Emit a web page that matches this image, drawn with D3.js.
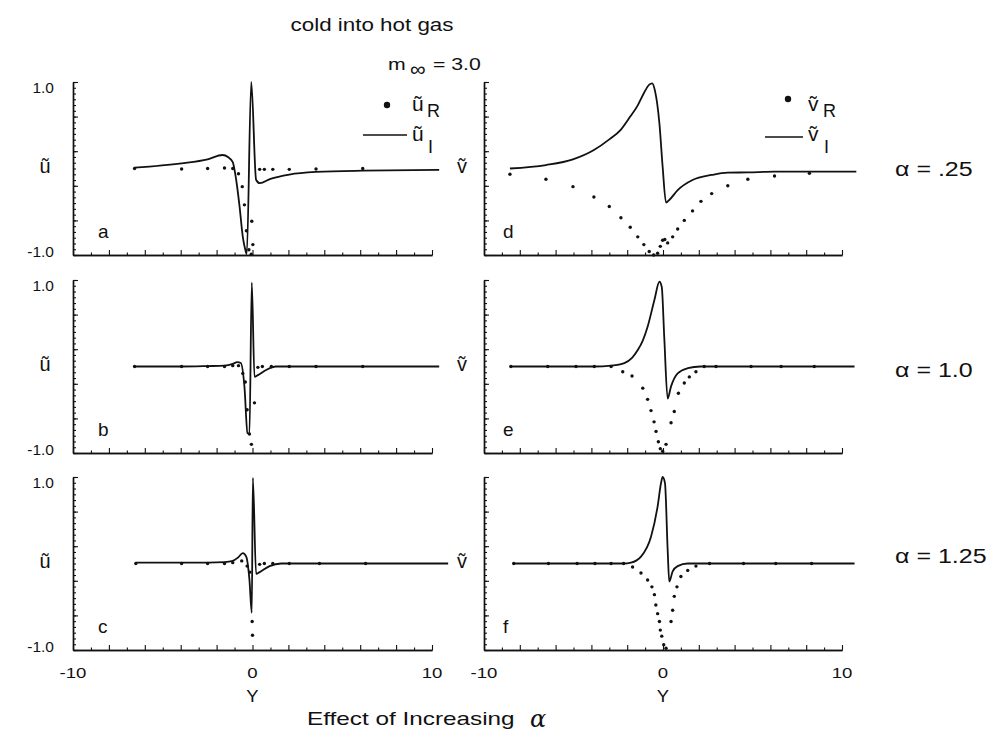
<!DOCTYPE html>
<html>
<head>
<meta charset="utf-8">
<script src="https://cdn.jsdelivr.net/npm/d3@7"></script>
<style>
  body { margin: 0; background: #fff; }
  svg { font-family: "Liberation Sans", Arial, Helvetica, sans-serif; }
</style>
</head>
<body>
<svg id="chart" width="996" height="755"></svg>
<script>
// panel a: u, alpha = .25
const aLineX = [-6.57, -3.95, -2.5, -1.67, -1.35, -1.1, -0.91, -0.72, -0.54, -0.4, -0.32, -0.07, 0.2, 0.4, 1.0, 2.05, 3.54, 6.14, 10.4]
const aLineY = [0.01, 0.06, 0.106, 0.156, 0.13, 0.075, -0.13, -0.44, -0.79, -0.94, -0.99, 1.0, -0.13, -0.17, -0.12, -0.07, -0.04, -0.025, -0.017]
const aDotX = [-6.57, -3.95, -2.5, -1.56, -1.1, -0.78, -0.57, -0.45, -0.34, -0.2, -0.07, -0.04, 0.02, 0.4, 0.66, 1.13, 2.05, 3.54, 6.14]
const aDotY = [0, -0.005, 0, 0.005, 0, -0.06, -0.21, -0.42, -0.72, -0.94, -0.99, -0.61, -0.88, -0.01, -0.01, -0.01, -0.01, -0.005, 0]

// panel b: u, alpha = 1.0
const bLineX = [-6.57, -3.95, -2.5, -1.56, -1.1, -0.85, -0.65, -0.45, -0.28, -0.17, -0.04, 0.11, 0.3, 0.76, 1.3, 2.05, 3.54, 6.14, 10.4]
const bLineY = [0, 0, 0.005, 0.01, 0.03, 0.05, 0.04, -0.23, -0.77, -0.78, 0.97, -0.12, -0.1, -0.04, 0, 0, 0, 0, 0]
const bDotX = [-6.57, -3.95, -2.5, -1.56, -1.1, -0.78, -0.54, -0.4, -0.3, -0.17, -0.06, 0.11, 0.3, 0.55, 1.05, 2.05, 3.54, 6.14]
const bDotY = [0, 0, 0, 0, 0.01, 0.01, -0.08, -0.18, -0.5, -0.78, -0.9, -0.42, -0.01, 0, 0, 0, 0, 0]

// panel c: u, alpha = 1.25
const cLineX = [-6.5, -3.95, -2.5, -1.56, -1.1, -0.8, -0.54, -0.35, -0.17, -0.04, 0.02, 0.2, 0.4, 0.95, 1.6, 3.54, 6.14, 10.9]
const cLineY = [0.01, 0.01, 0.01, 0.015, 0.03, 0.07, 0.12, 0.08, -0.19, -0.57, 0.99, -0.12, -0.1, -0.03, 0, 0, 0, 0]
const cDotX = [-6.5, -3.95, -2.5, -1.56, -1.1, -0.6, -0.3, -0.15, -0.02, 0.0, 0.4, 0.66, 1.13, 2.05, 3.73, 6.3]
const cDotY = [0, 0, 0, 0, 0.01, 0.03, -0.03, -0.1, -0.67, -0.83, -0.01, 0, 0, 0, 0, 0]

// panel d: v, alpha = .25
const dLineX = [-8.55, -6.54, -5.03, -3.86, -3.0, -2.35, -1.83, -1.41, -1.07, -0.77, -0.6, -0.45, -0.2, -0.02, 0.17, 0.35, 0.82, 1.65, 2.72, 3.62, 4.74, 6.23, 8.18, 10.8]
const dLineY = [0.0, 0.04, 0.106, 0.214, 0.337, 0.45, 0.6, 0.73, 0.87, 0.97, 0.985, 0.9, 0.52, 0.02, -0.395, -0.364, -0.25, -0.133, -0.075, -0.048, -0.045, -0.037, -0.037, -0.037]
const dDotX = [-8.55, -6.54, -5.03, -3.86, -3.0, -2.35, -1.83, -1.41, -1.07, -0.77, -0.52, -0.3, -0.15, -0.02, 0.1, 0.26, 0.54, 0.82, 1.19, 1.65, 2.12, 2.72, 3.62, 4.74, 6.23, 8.18]
const dDotY = [-0.067, -0.125, -0.21, -0.33, -0.44, -0.57, -0.68, -0.79, -0.88, -0.96, -1.0, -0.98, -0.9, -0.83, -0.82, -0.86, -0.79, -0.7, -0.6, -0.49, -0.38, -0.29, -0.2, -0.125, -0.087, -0.056]

// panel e: v, alpha = 1.0
const eLineX = [-8.5, -6.44, -4.86, -3.84, -2.9, -2.16, -1.73, -1.41, -1.13, -0.86, -0.48, -0.2, -0.07, 0.07, 0.26, 0.45, 0.82, 1.38, 2.1, 2.96, 4.92, 6.6, 8.45, 10.7]
const eLineY = [0, 0, 0, 0, 0.01, 0.04, 0.1, 0.19, 0.3, 0.46, 0.77, 0.98, 0.92, 0.34, -0.37, -0.23, -0.08, -0.02, 0, 0, 0, 0, 0, 0]
const eDotX = [-8.5, -6.44, -4.86, -3.84, -2.9, -2.25, -1.73, -1.13, -0.86, -0.67, -0.5, -0.39, -0.26, -0.15, -0.02, 0.17, 0.45, 0.63, 0.86, 1.19, 1.47, 1.84, 2.3, 2.96, 4.92, 6.6, 8.45]
const eDotY = [0, 0, 0, 0, 0, -0.06, -0.11, -0.25, -0.38, -0.51, -0.64, -0.75, -0.87, -0.95, -0.98, -0.9, -0.65, -0.52, -0.31, -0.19, -0.12, -0.06, 0, 0, 0, 0, 0]

// panel f: v, alpha = 1.25
const fLineX = [-8.34, -6.4, -4.8, -3.8, -2.9, -2.2, -1.79, -1.23, -0.67, -0.3, -0.11, -0.02, 0.11, 0.26, 0.35, 0.54, 0.82, 1.38, 2.1, 2.96, 4.92, 6.6, 8.45, 10.7]
const fLineY = [0, 0, 0, 0, 0, 0, 0.01, 0.08, 0.31, 0.66, 0.93, 1.0, 0.93, 0.16, -0.21, -0.09, -0.03, 0, 0, 0, 0, 0, 0, 0]
const fDotX = [-8.34, -6.4, -4.8, -3.8, -2.9, -2.2, -1.7, -1.23, -0.86, -0.62, -0.48, -0.4, -0.3, -0.2, -0.15, -0.07, 0.04, 0.17, 0.45, 0.54, 0.63, 0.78, 1.0, 1.38, 1.84, 2.6, 4.5, 6.3, 8.3]
const fDotY = [0, 0, 0, 0, 0, 0, -0.04, -0.11, -0.19, -0.27, -0.36, -0.48, -0.58, -0.67, -0.77, -0.84, -0.94, -0.98, -0.67, -0.54, -0.38, -0.27, -0.15, -0.08, -0.03, 0, 0, 0, 0]

const panelLetters = ["a", "b", "c", "d", "e", "f"]
const alphaLabels = ["α = .25", "α = 1.0", "α = 1.25"]
const xTickLabels = [-10, 0, 10]
const yTickLabels = [1.0, -1.0]

const zip = (xs, ys) => xs.map((x, i) => [x, ys[i]])

const panels = [
  {col: 0, row: 0, line: zip(aLineX, aLineY), dots: zip(aDotX, aDotY)},
  {col: 0, row: 1, line: zip(bLineX, bLineY), dots: zip(bDotX, bDotY)},
  {col: 0, row: 2, line: zip(cLineX, cLineY), dots: zip(cDotX, cDotY)},
  {col: 1, row: 0, line: zip(dLineX, dLineY), dots: zip(dDotX, dDotY)},
  {col: 1, row: 1, line: zip(eLineX, eLineY), dots: zip(eDotX, eDotY)},
  {col: 1, row: 2, line: zip(fLineX, fLineY), dots: zip(fDotX, fDotY)},
]

const colX = [[73, 432], [484, 842]]
const rowY = [[82, 255], [280, 453], [477, 650]]
const ink = "#111"

const svg = d3.select("#chart")

// the scanned lettering is wider than Liberation Sans, so stretch it sideways
function label(parent, x, y, size, sx = 1, anchor = "start") {
  return parent.append("text")
    .attr("transform", `translate(${x},${y}) scale(${sx},1)`)
    .attr("font-size", size)
    .attr("text-anchor", anchor)
    .attr("fill", ink)
}

const majorX = d3.range(-10, 11, 2)
const minorX = d3.range(-9, 10, 2)
const majorY = d3.range(6).map((i) => -1 + i * 0.4)
const minorY = d3.range(31).map((i) => -1 + i / 15)

panels.forEach((p, i) => {
  const x = d3.scaleLinear().domain([-10, 10]).range(colX[p.col])
  const y = d3.scaleLinear().domain([-1, 1]).range([rowY[p.row][1], rowY[p.row][0]])
  const g = svg.append("g")

  const axisStyle = (sel) => {
    sel.selectAll("path").attr("stroke", ink).attr("stroke-width", 1.4)
    sel.selectAll("line").attr("stroke", ink).attr("stroke-width", 1.1)
    sel.selectAll("text").remove()
  }

  // bottom axis, ticks pointing into the plot
  g.append("g")
    .attr("transform", `translate(0,${y(-1)})`)
    .call(d3.axisBottom(x).tickValues(majorX).tickSize(-5).tickSizeOuter(0))
    .call(axisStyle)
  g.append("g")
    .attr("transform", `translate(0,${y(-1)})`)
    .call(d3.axisBottom(x).tickValues(minorX).tickSize(-2.5).tickSizeOuter(0))
    .call(axisStyle)

  // left axis
  g.append("g")
    .attr("transform", `translate(${x(-10)},0)`)
    .call(d3.axisLeft(y).tickValues(majorY).tickSize(-5).tickSizeOuter(0))
    .call(axisStyle)
  g.append("g")
    .attr("transform", `translate(${x(-10)},0)`)
    .call(d3.axisLeft(y).tickValues(minorY).tickSize(-3).tickSizeOuter(0))
    .call(axisStyle)

  const line = d3.line().x((d) => x(d[0])).y((d) => y(d[1])).curve(d3.curveMonotoneX)
  g.append("path")
    .datum(p.line)
    .attr("d", line)
    .attr("fill", "none")
    .attr("stroke", ink)
    .attr("stroke-width", 1.8)

  g.selectAll("circle.pt")
    .data(p.dots)
    .join("circle")
    .attr("class", "pt")
    .attr("cx", (d) => x(d[0]))
    .attr("cy", (d) => y(d[1]))
    .attr("r", 1.7)
    .attr("fill", ink)

  // panel letter
  label(g, x(-10) + (p.col === 0 ? 25 : 19), y(-1) - 17, 19).text(panelLetters[i])

  // y axis symbol
  label(g, p.col === 0 ? x(-10) - 28 : x(-10) - 22, y(0) + 4, 20, 1, "middle")
    .text(p.col === 0 ? "ũ" : "ṽ")

  if (p.col === 0) {
    yTickLabels.forEach((v) => {
      label(g, x(-10) - 19, y(v) + (v > 0 ? 11 : 2), 15.5, 1, "end").text(v.toFixed(1))
    })
  }

  if (p.row === 2) {
    xTickLabels.forEach((v) => {
      label(g, x(v), y(-1) + 28, 15.5, 1.2, "middle").text(v)
    })
    label(g, x(0), y(-1) + 52, 16, 1.15, "middle").text("Y")
  }

  if (p.col === 1) {
    label(g, 895, y(0) + 7 - (p.row === 2 ? 8 : 0) + (p.row === 1 ? 3 : 0), 20, 1.25)
      .attr("xml:space", "preserve")
      .text(alphaLabels[p.row])
  }

  // legends in the top row
  if (p.row === 0) {
    const sym = p.col === 0 ? "ũ" : "ṽ"
    const lx = p.col === 0 ? 412 : 808
    const dotY = p.col === 0 ? y(1) + 23 : y(1) + 17
    g.append("circle").attr("cx", p.col === 0 ? lx - 25 : lx - 20).attr("cy", dotY).attr("r", 3.2).attr("fill", ink)
    label(g, lx, y(1) + 29, 21).text(sym)
    label(g, lx + 15, y(1) + 35, 18).text("R")
    const lineY = p.col === 0 ? y(1) + 53 : y(1) + 55
    g.append("line")
      .attr("x1", p.col === 0 ? lx - 49 : lx - 43).attr("x2", lx - 5)
      .attr("y1", lineY).attr("y2", lineY)
      .attr("stroke", ink).attr("stroke-width", 1.4)
    label(g, lx, y(1) + 59, 21).text(sym)
    label(g, lx + 16, y(1) + 71, 18).text("I")
  }
})

// header and footer
label(svg, 372, 31, 17.5, 1.28, "middle").text("cold into hot gas")

label(svg, 388, 70, 17, 1.25).text("m")
label(svg, 410, 76, 20, 1.1).text("∞")
label(svg, 433, 70, 17, 1.25).text("= 3.0")

label(svg, 307, 725, 19, 1.28).text("Effect of Increasing")
label(svg, 530, 727, 24).attr("font-style", "italic").attr("font-family", "'DejaVu Serif', serif").text("α")
</script>
</body>
</html>
